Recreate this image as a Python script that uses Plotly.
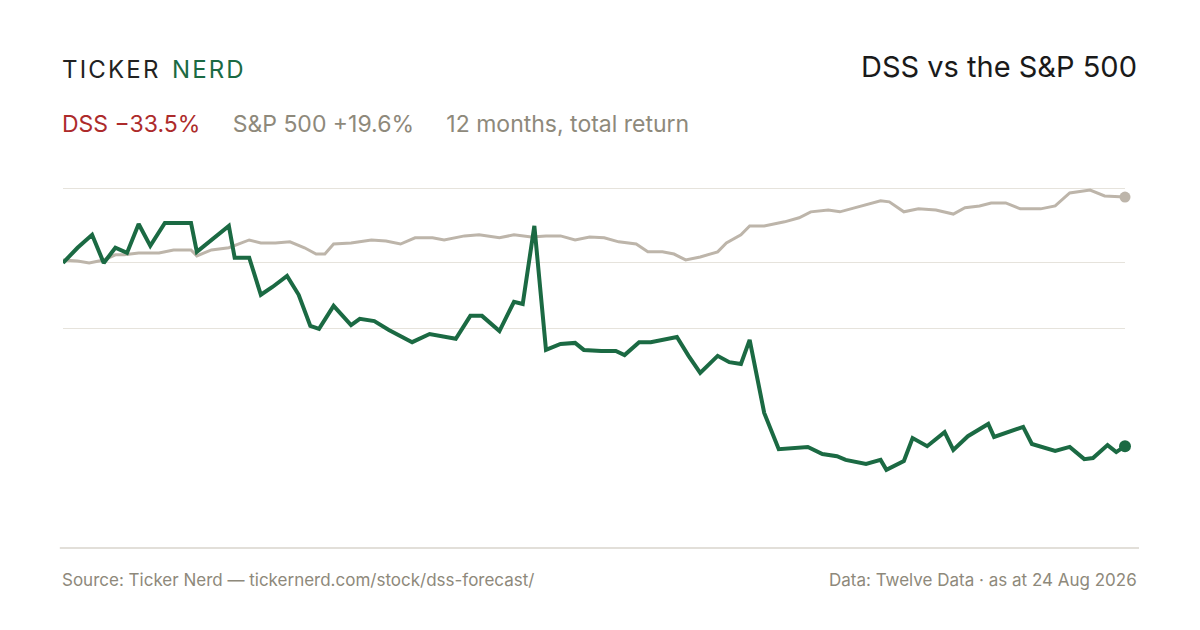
import datetime as dt
import plotly.graph_objects as go

start = dt.date(2025, 8, 24)

dss_days = [0, 5, 10, 14, 18, 22, 26, 30, 35, 44, 46, 52, 57, 59, 64, 68, 72, 77, 81, 85, 88, 93, 99, 102,
            107, 112, 120, 126, 135, 140, 144, 150, 155, 158, 162, 166, 171, 176, 179, 185, 190, 193, 198,
            202, 211, 215, 219, 225, 229, 233, 236, 241, 246, 256, 261, 266, 269, 276, 281, 283, 289, 292,
            297, 303, 306, 311, 318, 320, 330, 333, 341, 346, 351, 354, 359, 362, 365]
dss_index = [100, 104.1, 107.6, 100, 104.1, 102.7, 110.5, 104.6, 110.8, 110.8, 103, 107, 110, 101.4, 101.4,
             91.4, 93.5, 96.5, 91.4, 83, 82.2, 88.4, 83.2, 84.9, 84.3, 81.9, 78.6, 80.8, 79.5, 85.7, 85.7,
             81.6, 89.5, 88.9, 110, 76.5, 78.1, 78.4, 76.5, 76.2, 76.2, 75.1, 78.6, 78.6, 80, 74.9, 70.3,
             74.9, 73.2, 72.7, 79.2, 59.5, 49.7, 50.3, 48.4, 47.8, 46.8, 45.7, 46.8, 44.1, 46.5, 52.7, 50.5,
             54.3, 49.5, 53.2, 56.5, 53, 55.7, 51.1, 49.2, 50.3, 47, 47.3, 50.8, 48.9, 50.5]

spx_days = [0, 5, 9, 14, 18, 21, 26, 33, 38, 44, 46, 51, 57, 64, 68, 73, 78, 83, 87, 90, 93, 99, 106, 111,
            116, 121, 127, 131, 138, 143, 150, 155, 161, 166, 171, 176, 181, 186, 191, 197, 201, 206, 210,
            214, 219, 225, 228, 233, 236, 241, 248, 253, 257, 263, 267, 274, 281, 284, 289, 294, 300, 306,
            310, 315, 319, 324, 329, 336, 341, 346, 353, 358, 365]
spx_index = [100.8, 100.5, 100, 100.8, 102.2, 102.2, 102.7, 102.7, 103.5, 103.5, 101.9, 103.5, 104.1, 106.2,
             105.4, 105.4, 105.7, 104.1, 102.4, 102.4, 105.1, 105.4, 106.2, 105.9, 105.1, 106.8, 106.8,
             106.2, 107.3, 107.6, 106.8, 107.6, 107, 107.3, 107.3, 106.2, 107, 106.8, 105.7, 105.1, 103,
             103, 102.4, 100.8, 101.6, 103, 105.4, 107.6, 110, 110, 111.1, 112.2, 113.8, 114.3, 113.8,
             115.4, 116.8, 116.5, 113.8, 114.6, 114.3, 113.2, 114.9, 115.4, 116.2, 116.2, 114.6, 114.6,
             115.4, 118.9, 119.7, 118.1, 117.8]

grid_vals = [120, 100, 82.2]

GREEN = "#1b6a43"
RED = "#ad2b2b"
SPX = "#bdb5aa"
GREY = "#8e897b"
FONT = "Inter"

# the page body adds an 8px offset
OFF = 8
L, R, T, B = 63 - OFF, 75 + OFF, 170 - OFF, 82 + OFF

dss_x = [start + dt.timedelta(days=d) for d in dss_days]
spx_x = [start + dt.timedelta(days=d) for d in spx_days]

fig = go.Figure()
fig.add_trace(go.Scatter(x=spx_x, y=spx_index, mode="lines", line={"color": SPX, "width": 3}, hoverinfo="skip"))
fig.add_trace(go.Scatter(x=dss_x, y=dss_index, mode="lines", line={"color": GREEN, "width": 4}, hoverinfo="skip"))
fig.add_trace(go.Scatter(x=[spx_x[-1]], y=[spx_index[-1]], mode="markers", cliponaxis=False,
                         marker={"color": SPX, "size": 11}))
fig.add_trace(go.Scatter(x=[dss_x[-1]], y=[dss_index[-1]], mode="markers", cliponaxis=False,
                         marker={"color": GREEN, "size": 12}))

fig.add_shape(type="line", xref="paper", yref="paper", x0=-0.003, x1=1.0132, y0=0, y1=0,
              line={"color": "#d9d5cc", "width": 1.5})

sp = "\u200a"
ann = [
    dict(x=60, y=70, text="<span style='color:#222'>%s</span>  <span style='color:%s'>%s</span>"
         % (sp.join("TICKER"), GREEN, sp.join("NERD")), size=24, xanchor="left"),
    dict(x=1139, y=67, text="DSS vs the S&P 500", size=29, xanchor="right", color="#1a1a1a"),
    dict(x=60, y=124, text="<span style='color:%s'>DSS \u221233.5%%</span>     S&P 500 +19.6%%     12 months, total return" % RED,
         size=23, xanchor="left", color=GREY),
    dict(x=60, y=580, text="Source: Ticker Nerd \u2014 tickernerd.com/stock/dss-forecast/", size=17,
         xanchor="left", color=GREY),
    dict(x=1139, y=580, text="Data: Twelve Data \u00b7 as at 24 Aug 2026", size=17, xanchor="right", color=GREY),
]
pw, ph = 1200 - L - R, 630 - T - B
for a in ann:
    fig.add_annotation(x=(a["x"] - 63) / pw, y=(548 - a["y"]) / ph, xref="paper", yref="paper",
                       showarrow=False, xanchor=a["xanchor"], yanchor="middle", text=a["text"],
                       font={"family": FONT, "size": a["size"], "color": a.get("color", "#222")})

fig.update_layout(
    width=1200, height=630, margin={"l": L, "r": R, "t": T, "b": B},
    paper_bgcolor="white", plot_bgcolor="white", showlegend=False,
    xaxis={"visible": False, "range": [start, start + dt.timedelta(days=365)]},
    yaxis={"range": [23, 125.1], "tickvals": grid_vals, "showticklabels": False,
           "gridcolor": "#e6e3dc", "gridwidth": 1, "zeroline": False},
)

fig.write_html("out.html")
